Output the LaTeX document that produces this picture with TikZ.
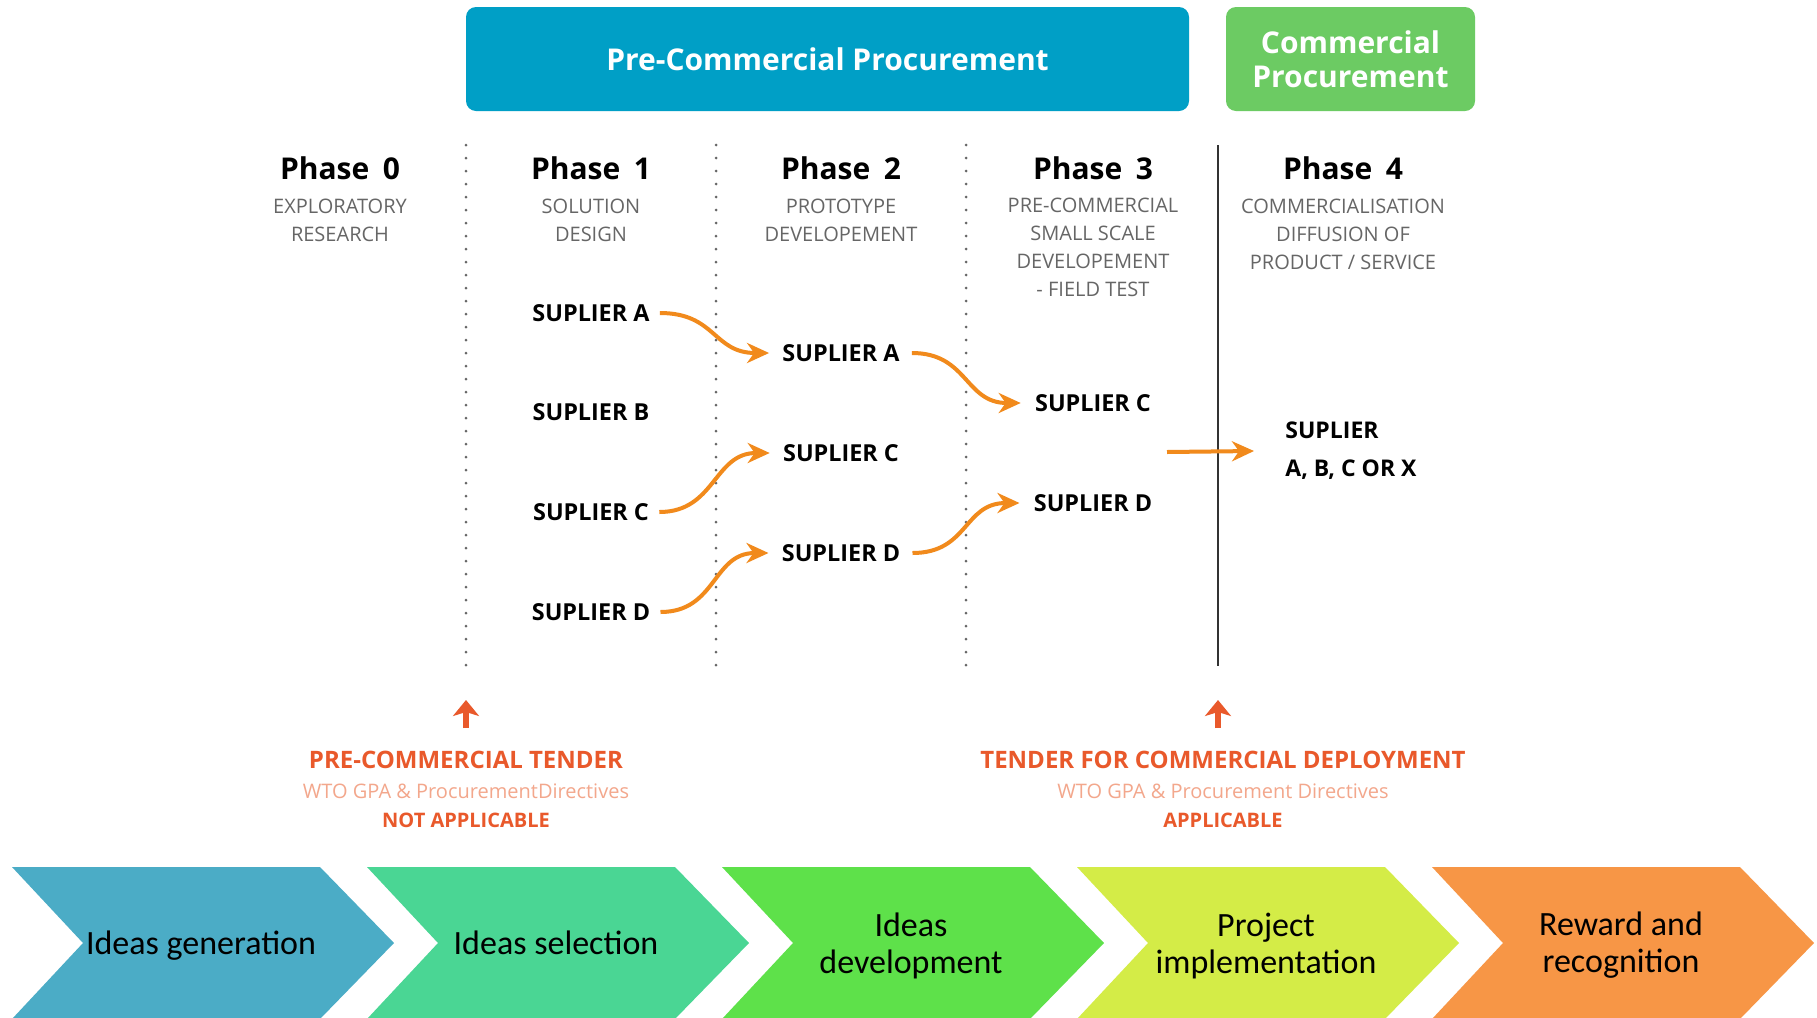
\documentclass[tikz,border=0pt]{standalone}
\usepackage{fontspec}
\setmainfont{Open Sans}
\newfontfamily\chevfont{Carlito}
\usetikzlibrary{arrows.meta}
\definecolor{pcpblue}{HTML}{009FC6}
\definecolor{cpgreen}{HTML}{6CCB63}
\definecolor{chevA}{HTML}{4BACC6}
\definecolor{chevB}{HTML}{4AD694}
\definecolor{chevC}{HTML}{5EE14A}
\definecolor{chevD}{HTML}{D4EC47}
\definecolor{chevE}{HTML}{F79646}
\definecolor{arrorange}{HTML}{F18A1C}
\definecolor{tred}{HTML}{E9592B}
\definecolor{tlight}{HTML}{F3A78C}
\definecolor{subgray}{HTML}{666666}
\begin{document}
\begin{tikzpicture}[x=0.5pt,y=-0.5pt,
  topbox/.style={fill=#1, rounded corners=5pt, text=white, align=center, inner sep=0,
    font=\fontsize{15}{17}\selectfont\bfseries},
  phasehead/.style={font=\fontsize{15}{18}\selectfont\bfseries, inner sep=0},
  subtext/.style={font=\fontsize{10}{14}\selectfont, text=subgray, align=center, inner sep=0},
  suplabel/.style={font=\fontsize{11.7}{14}\selectfont\bfseries, inner sep=0},
  flow/.style={draw=arrorange, line width=2pt, -{Stealth[length=11pt,width=10pt,inset=3.5pt]}},
  uparr/.style={draw=tred, line width=3pt, -{Stealth[length=8pt,width=13pt,inset=2pt]}},
  ttitle/.style={font=\fontsize{12}{14}\selectfont\bfseries, text=tred, inner sep=0},
  tsub/.style={font=\fontsize{10}{12}\selectfont, text=tlight, inner sep=0},
  tapp/.style={font=\fontsize{10}{12}\selectfont\bfseries, text=tred, inner sep=0},
  chevtext/.style={font=\chevfont\fontsize{17}{18.5}\selectfont, align=center, inner sep=0},
  dotline/.style={draw=black!60, line width=1.5pt, dash pattern=on 0pt off 6.5pt, line cap=round},
  solidline/.style={draw=black!80, line width=1.1pt}
]
\useasboundingbox (0,0) rectangle (1817,1018);
\fill[white] (0,0) rectangle (1817,1018);

% top boxes
\node[topbox=pcpblue, minimum width=361.5pt, minimum height=52pt] (pcp) at (827.5,59) {Pre-Commercial Procurement};
\node[topbox=cpgreen, minimum width=124.5pt, minimum height=52pt] (cp) at (1350.5,59) {Commercial\\Procurement};

% separators
\draw[dotline] (466,145) -- (466,666);
\draw[dotline] (716,145) -- (716,666);
\draw[dotline] (966,145) -- (966,666);
\draw[solidline] (1218,145) -- (1218,666);

% phase headings
\node[phasehead] (ph0) at (340,168) {Phase\hspace{0.45em}0};
\node[phasehead] (ph1) at (591,168) {Phase\hspace{0.45em}1};
\node[phasehead] (ph2) at (841,168) {Phase\hspace{0.45em}2};
\node[phasehead] (ph3) at (1093,168) {Phase\hspace{0.45em}3};
\node[phasehead] (ph4) at (1343,168) {Phase\hspace{0.45em}4};

\node[subtext] (s0) at (340,220) {EXPLORATORY\\RESEARCH};
\node[subtext] (s1) at (591,220) {SOLUTION\\DESIGN};
\node[subtext] (s2) at (841,220) {PROTOTYPE\\DEVELOPEMENT};
\node[subtext] (s3) at (1093,247) {PRE-COMMERCIAL\\SMALL SCALE\\DEVELOPEMENT\\- FIELD TEST};
\node[subtext] (s4) at (1343,234) {COMMERCIALISATION\\DIFFUSION OF\\PRODUCT / SERVICE};

% suppliers
\node[suplabel] (p1a) at (591,313) {SUPLIER A};
\node[suplabel] (p1b) at (591,412) {SUPLIER B};
\node[suplabel] (p1c) at (591,512) {SUPLIER C};
\node[suplabel] (p1d) at (591,612) {SUPLIER D};
\node[suplabel] (p2a) at (841,353) {SUPLIER A};
\node[suplabel] (p2c) at (841,453) {SUPLIER C};
\node[suplabel] (p2d) at (841,553) {SUPLIER D};
\node[suplabel] (p3c) at (1093,403) {SUPLIER C};
\node[suplabel] (p3d) at (1093,503) {SUPLIER D};
\node[suplabel, align=left, anchor=west, font=\fontsize{11.5}{19}\selectfont\bfseries] (p4) at (1285,451) {SUPLIER\\A, B, C OR X};

% flows
\draw[flow] ([xshift=5pt]p1a.east) .. controls +(28pt,0) and +(-28pt,0) .. ([xshift=-6.5pt]p2a.west);
\draw[flow] ([xshift=5pt]p1c.east) .. controls +(28pt,0) and +(-28pt,0) .. ([xshift=-6.5pt]p2c.west);
\draw[flow] ([xshift=5pt]p1d.east) .. controls +(28pt,0) and +(-28pt,0) .. ([xshift=-6.5pt]p2d.west);
\draw[flow] ([xshift=6pt]p2a.east) .. controls +(28pt,0) and +(-28pt,0) .. ([xshift=-7pt]p3c.west);
\draw[flow] ([xshift=6pt]p2d.east) .. controls +(28pt,0) and +(-28pt,0) .. ([xshift=-7pt]p3d.west);
\coordinate (src4) at (1167,452);
\draw[flow] (src4) -- ([xshift=-15.5pt]p4.west);

% tenders
\node[ttitle] (tl1) at (466,760) {PRE-COMMERCIAL TENDER};
\node[tsub] (tl2) at (466,791) {WTO GPA \& ProcurementDirectives};
\node[tapp] (tl3) at (466,820) {NOT APPLICABLE};
\node[ttitle] (tr1) at (1223,760) {TENDER FOR COMMERCIAL DEPLOYMENT};
\node[tsub] (tr2) at (1223,791) {WTO GPA \& Procurement Directives};
\node[tapp] (tr3) at (1223,820) {APPLICABLE};
\coordinate (ua1) at (466,700);
\coordinate (ua2) at (1218,700);
\draw[uparr] (ua1 |- {(0,728)}) -- (ua1);
\draw[uparr] (ua2 |- {(0,728)}) -- (ua2);

% chevrons
\foreach \i/\c in {0/chevA,1/chevB,2/chevC,3/chevD,4/chevE}{
  \pgfmathsetmacro{\L}{12+355*\i}
  \fill[\c] (\L,867) -- (\L+308,867) -- (\L+382,943) -- (\L+308,1019) -- (\L,1019) -- (\L+71,943) -- cycle;
}
\node[chevtext] (c1) at (201,946) {Ideas generation};
\node[chevtext] (c2) at (556,943) {Ideas selection};
\node[chevtext] (c3) at (911,946) {Ideas\\development};
\node[chevtext] (c4) at (1266,946) {Project\\implementation};
\node[chevtext] (c5) at (1621,945) {Reward and\\recognition};
\end{tikzpicture}
\end{document}
